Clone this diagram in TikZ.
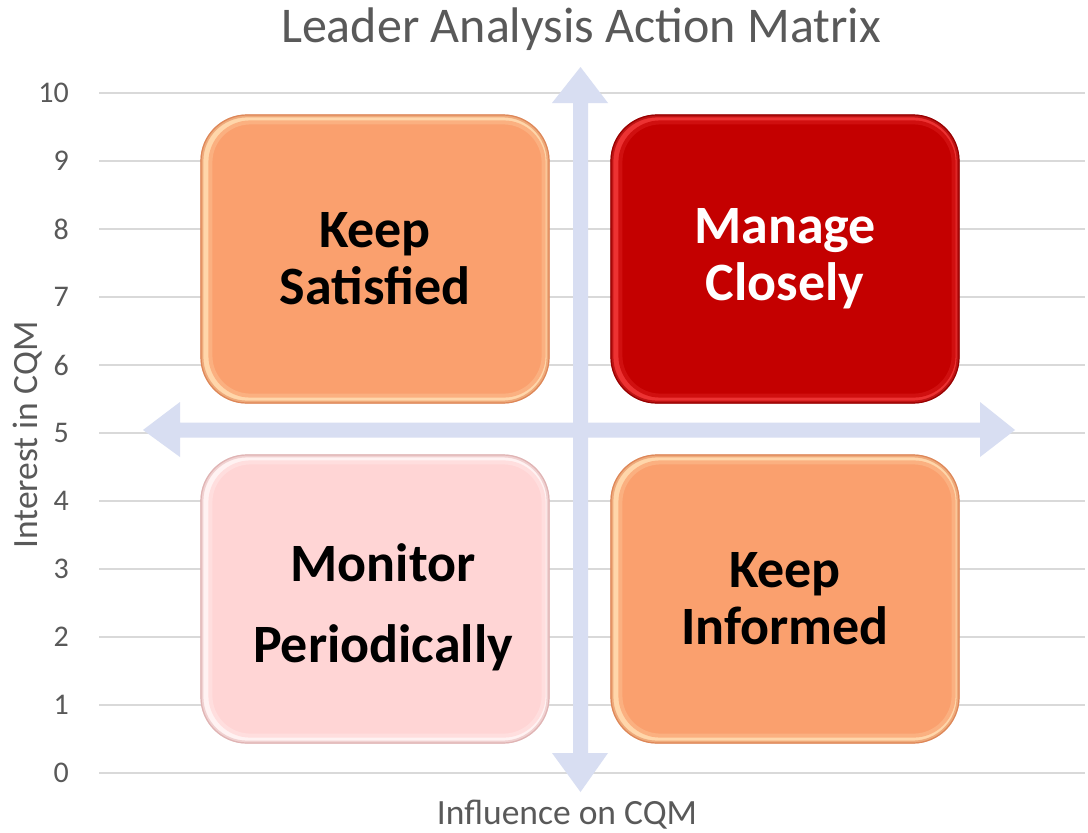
\documentclass[tikz,border=0pt]{standalone}
\usepackage{fontspec}
\setmainfont{Carlito}
\usetikzlibrary{calc}
\definecolor{txtgray}{RGB}{89,89,89}
\definecolor{gridgray}{RGB}{217,217,217}
\definecolor{axiscol}{RGB}{216,222,242}
\definecolor{orgmain}{RGB}{250,160,110}
\definecolor{orglight}{RGB}{255,214,170}
\definecolor{orgdark}{RGB}{214,128,82}
\definecolor{redmain}{RGB}{196,0,0}
\definecolor{redlight}{RGB}{236,50,50}
\definecolor{reddark}{RGB}{140,0,0}
\definecolor{pinkmain}{RGB}{255,213,213}
\definecolor{pinklight}{RGB}{255,242,242}
\definecolor{pinkdark}{RGB}{214,170,170}
\begin{document}
\begin{tikzpicture}[x=1pt,y=-1pt,
  grid line/.style={draw=gridgray,line width=1.5pt},
  tick label/.style={anchor=east,inner sep=0pt,text=txtgray,font=\fontsize{30}{36}\selectfont},
  axis title/.style={inner sep=0pt,text=txtgray,font=\fontsize{35.5}{42}\selectfont},
  quad/.style={minimum width=348pt,minimum height=288pt,rounded corners=46pt,inner sep=0pt,line width=1.2pt},
  quadtext/.style={align=center,inner sep=0pt,font=\fontsize{54}{57}\selectfont\bfseries},
  axis arrow/.style={fill=axiscol}
]
\useasboundingbox (0,0) rectangle (1088,833);
\fill[white] (0,0) rectangle (1088,833);

% title
\node[inner sep=0pt,text=txtgray,font=\fontsize{50}{60}\selectfont] (title) at (581,29) {Leader Analysis Action Matrix};

% grid lines and tick labels
\foreach \v in {0,...,10}{
  \coordinate (gl\v) at (99,{773-68*\v});
  \coordinate (gr\v) at (1085,{773-68*\v});
  \draw[grid line] (gl\v) -- (gr\v);
  \node[tick label] (t\v) at (69,{773-68*\v}) {\v};
}

% axis titles
\node[axis title,rotate=90] (ytitle) at (28,435) {Interest in CQM};
\node[axis title] (xtitle) at (567,815) {Influence on CQM};

% quadrant boxes
\newcommand{\quadbox}[5]{%
  % #1 name, #2 position, #3 light, #4 main, #5 dark
  \node[quad,fill=#3,draw=#5] (#1) at #2 {};
  \fill[#4,rounded corners=40pt] ($(#1.north west)+(10,8)$) rectangle ($(#1.south east)+(-6,-8)$);
  \draw[#4!70!#3,line width=4pt,rounded corners=40pt] ($(#1.north west)+(10,8)$) rectangle ($(#1.south east)+(-6,-8)$);
  \draw[#5!60!#4,line width=3pt,rounded corners=45pt,opacity=0.6] ($(#1.north west)+(1.5,1.5)$) rectangle ($(#1.south east)+(-1.5,-1.5)$);
}
\quadbox{ks}{(375,259)}{orglight}{orgmain}{orgdark}
\quadbox{mc}{(785,259)}{redlight}{redmain}{reddark}
\quadbox{mp}{(375,599)}{pinklight}{pinkmain}{pinkdark}
\quadbox{ki}{(785,599)}{orglight}{orgmain}{orgdark}

% quadrant texts
\node[quadtext,text=black] (kst) at (ks) {Keep\\Satisfied};
\node[quadtext,text=white] (mct) at (mc) {Manage\\Closely};
\node[quadtext,text=black,font=\fontsize{54}{81}\selectfont\bfseries] (mpt) at ($(mp)+(8,8)$) {Monitor\\Periodically};
\node[quadtext,text=black] (kit) at (ki) {Keep\\Informed};

% axes (double-headed block arrows)
\coordinate (vc) at (580.5,430);
\fill[axis arrow] (573,103) -- (552,103) -- (580.5,67) -- (608,103) -- (588,103)
  -- (588,753) -- (608,753) -- (580.5,792) -- (552,753) -- (573,753) -- cycle;
\fill[axis arrow] (180,422.5) -- (180,402) -- (143,430) -- (180,457) -- (180,437.5)
  -- (980,437.5) -- (980,457) -- (1015,430) -- (980,402) -- (980,422.5) -- cycle;
\end{tikzpicture}
\end{document}
